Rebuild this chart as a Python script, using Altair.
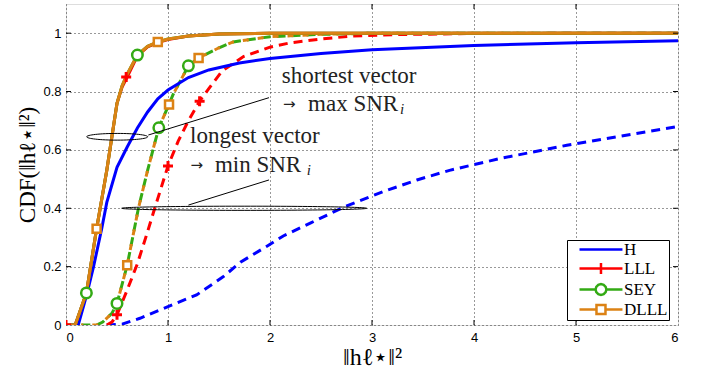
import altair as alt
import pandas as pd

# ---------------- data ----------------
series_names = ["H", "LLL", "SEY", "DLLL"]
series_colors = ["#0000FF", "#FF0000", "#33AA14", "#DC8214"]

# shortest vector (solid)
H_short_x = [0, 0.12, 0.2, 0.27, 0.35, 0.4, 0.5, 0.6, 0.7, 0.8, 0.9, 1.0, 1.2, 1.4, 1.7, 2.0, 2.5, 3.0, 4.0, 5.0, 6.0]
H_short_y = [0, 0, 0.1, 0.2, 0.33, 0.42, 0.54, 0.61, 0.675, 0.73, 0.775, 0.805, 0.848, 0.874, 0.898, 0.913, 0.93, 0.943, 0.958, 0.967, 0.974]

LLL_short_x = [0, 0.09, 0.2, 0.3, 0.4, 0.45, 0.5, 0.55, 0.6, 0.7, 0.8, 0.9, 1.0, 1.2, 1.5, 2.0, 3.0, 6.0]
LLL_short_y = [0, 0, 0.11, 0.33, 0.53, 0.645, 0.76, 0.815, 0.85, 0.922, 0.953, 0.968, 0.978, 0.99, 0.997, 1.0, 1.0, 1.0]

SEY_short_x = [0, 0.09, 0.2, 0.3, 0.4, 0.45, 0.5, 0.55, 0.6, 0.7, 0.8, 0.9, 1.0, 1.2, 1.5, 2.0, 3.0, 6.0]
SEY_short_y = [0, 0, 0.11, 0.33, 0.53, 0.645, 0.76, 0.82, 0.86, 0.925, 0.955, 0.97, 0.98, 0.99, 0.997, 1.0, 1.0, 1.0]

DLLL_short_x = [0, 0.09, 0.2, 0.3, 0.4, 0.45, 0.5, 0.55, 0.6, 0.7, 0.8, 0.9, 1.0, 1.2, 1.5, 2.0, 3.0, 6.0]
DLLL_short_y = [0, 0, 0.11, 0.33, 0.53, 0.645, 0.76, 0.82, 0.86, 0.925, 0.955, 0.97, 0.98, 0.99, 0.997, 1.0, 1.0, 1.0]

# longest vector (dashed)
H_long_x = [0.4, 0.55, 0.725, 1.0, 1.28, 1.54, 1.71, 1.97, 2.13, 2.4, 2.73, 3.11, 3.44, 3.76, 4.25, 4.91, 5.4, 6.0]
H_long_y = [0, 0.003, 0.023, 0.063, 0.103, 0.165, 0.215, 0.27, 0.305, 0.35, 0.405, 0.457, 0.497, 0.53, 0.57, 0.616, 0.645, 0.68]

LLL_long_x = [0.4, 0.45, 0.5, 0.6, 0.7, 0.8, 0.87, 1.0, 1.1, 1.2, 1.31, 1.4, 1.53, 1.74, 2.0, 2.2, 2.5, 2.8, 3.2, 4.0, 6.0]
LLL_long_y = [0, 0.01, 0.035, 0.12, 0.21, 0.32, 0.40, 0.545, 0.63, 0.70, 0.767, 0.81, 0.87, 0.92, 0.952, 0.967, 0.98, 0.99, 0.995, 0.999, 1.0]

SEY_long_x = [0.15, 0.3, 0.36, 0.45, 0.5, 0.6, 0.71, 0.8, 0.86, 0.91, 1.01, 1.05, 1.2, 1.3, 1.5, 1.64, 2.0, 2.5, 3.0, 6.0]
SEY_long_y = [0, 0, 0.01, 0.04, 0.074, 0.205, 0.40, 0.53, 0.61, 0.676, 0.756, 0.79, 0.888, 0.915, 0.95, 0.97, 0.988, 0.996, 1.0, 1.0]

DLLL_long_x = [0.15, 0.3, 0.36, 0.45, 0.5, 0.6, 0.71, 0.8, 0.86, 0.91, 1.01, 1.05, 1.2, 1.3, 1.5, 1.64, 2.0, 2.5, 3.0, 6.0]
DLLL_long_y = [0, 0, 0.01, 0.04, 0.074, 0.205, 0.40, 0.53, 0.61, 0.676, 0.756, 0.79, 0.888, 0.915, 0.95, 0.97, 0.988, 0.996, 1.0, 1.0]

# markers
LLL_mark_x = [0, 0.59, 0.5, 1.0, 1.31]
LLL_mark_y = [0, 0.85, 0.035, 0.545, 0.767]
SEY_mark_x = [0.2, 0.7, 0.5, 0.91, 1.2]
SEY_mark_y = [0.11, 0.925, 0.074, 0.676, 0.888]
DLLL_mark_x = [0.3, 0.9, 0.6, 1.01, 1.3]
DLLL_mark_y = [0.33, 0.97, 0.205, 0.756, 0.915]

# annotations
ann_text = ["shortest vector", "max SNR", "longest vector", "min SNR"]
ann_x = [2.115, 2.373, 1.216, 1.46]
ann_y = [0.829, 0.734, 0.622, 0.525]
arrow_x = [2.127, 1.22]
arrow_y = [0.734, 0.525]
sub_x = [3.275, 2.36]
sub_y = [0.722, 0.513]
ell_x = [0.502, 1.747]
ell_y = [0.645, 0.40]
lead_x = [1.99, 1.99]
lead_y = [0.779, 0.497]
lead_x2 = [0.807, 1.2]
lead_y2 = [0.651, 0.411]

x_ticks = [0, 1, 2, 3, 4, 5, 6]
y_ticks = [0, 0.2, 0.4, 0.6, 0.8, 1]

# ---------------- build ----------------
xs = alt.Scale(domain=[0, 6], nice=False, zero=False)
ys = alt.Scale(domain=[0, 1.1], nice=False, zero=False)

xaxis = alt.Axis(values=x_ticks, format="d", title="\u2016h\u2113\u22c6\u2016\u00b2",
                 grid=True, gridDash=[1, 3], gridColor="#333333", gridWidth=1,
                 domain=False, ticks=False, labelPadding=6,
                 labelFont="Liberation Sans", labelFontSize=13, labelColor="black",
                 titleFont="Liberation Serif", titleFontSize=24, titleFontWeight="normal",
                 titleColor="black", titlePadding=1)
yaxis = alt.Axis(values=y_ticks, format=".1~f", title="CDF(\u2016h\u2113\u22c6\u2016\u00b2)",
                 grid=True, gridDash=[1, 3], gridColor="#333333", gridWidth=1,
                 domain=False, ticks=False, labelPadding=5,
                 labelFont="Liberation Sans", labelFontSize=13, labelColor="black",
                 titleFont="Liberation Serif", titleFontSize=23, titleFontWeight="normal",
                 titleColor="black", titlePadding=3)


def line_df(xv, yv):
    return pd.DataFrame({"x": xv, "y": yv, "i": list(range(len(xv)))})


def line_layer(xv, yv, color, dash=None, offset=0):
    kw = dict(color=color, strokeWidth=3, clip=True, strokeCap="butt")
    if dash:
        kw["strokeDash"] = dash
        kw["strokeDashOffset"] = offset
    return alt.Chart(line_df(xv, yv)).mark_line(**kw).encode(
        x=alt.X("x:Q", scale=xs, axis=xaxis),
        y=alt.Y("y:Q", scale=ys, axis=yaxis),
        order="i:Q",
    )


dash = [9, 6]
layers = [
    line_layer(H_long_x, H_long_y, series_colors[0], dash),
    line_layer(LLL_long_x, LLL_long_y, series_colors[1], dash),
    line_layer(SEY_long_x, SEY_long_y, series_colors[2], dash),
    line_layer(DLLL_long_x, DLLL_long_y, series_colors[3], [6, 9], 4),
    line_layer(H_short_x, H_short_y, series_colors[0]),
    line_layer(LLL_short_x, LLL_short_y, series_colors[1]),
    line_layer(SEY_short_x, SEY_short_y, series_colors[2]),
    line_layer(DLLL_short_x, DLLL_short_y, series_colors[3]),
]

plus_path = "M-1,0L1,0M0,-1L0,1"


def marker_layer(xv, yv, color, shape, size, sw):
    return alt.Chart(pd.DataFrame({"x": xv, "y": yv})).mark_point(
        shape=shape, size=size, stroke=color, fill="white", filled=True,
        strokeWidth=sw, opacity=1, clip=True
    ).encode(x=alt.X("x:Q", scale=xs, axis=xaxis), y=alt.Y("y:Q", scale=ys, axis=yaxis))


layers += [
    marker_layer(LLL_mark_x, LLL_mark_y, series_colors[1], plus_path, 100, 3),
    marker_layer(SEY_mark_x, SEY_mark_y, series_colors[2], "circle", 110, 2.5),
    marker_layer(DLLL_mark_x, DLLL_mark_y, series_colors[3], "square", 64, 2.5),
]

# annotation leader lines and ellipses
lead_df = pd.DataFrame({"x": lead_x, "y": lead_y, "x2": lead_x2, "y2": lead_y2})
layers.append(alt.Chart(lead_df).mark_rule(color="black", strokeWidth=1).encode(
    x=alt.X("x:Q", scale=xs, axis=xaxis), y=alt.Y("y:Q", scale=ys, axis=yaxis),
    x2="x2:Q", y2="y2:Q"))

ell_shapes = ["M-1,0A1,0.11 0 1,0 1,0A1,0.11 0 1,0 -1,0",
              "M-1,0A1,0.017 0 1,0 1,0A1,0.017 0 1,0 -1,0"]
ell_sizes = [3721, 60025]
for k in range(2):
    layers.append(alt.Chart(pd.DataFrame({"x": [ell_x[k]], "y": [ell_y[k]]})).mark_point(
        shape=ell_shapes[k], size=ell_sizes[k], stroke="black", strokeWidth=1,
        filled=False, opacity=1).encode(
        x=alt.X("x:Q", scale=xs, axis=xaxis), y=alt.Y("y:Q", scale=ys, axis=yaxis)))

ann_df = pd.DataFrame({"x": ann_x, "y": ann_y, "t": ann_text})
layers.append(alt.Chart(ann_df).mark_text(
    align="left", baseline="alphabetic", font="Liberation Serif", fontSize=23, color="#222222"
).encode(x=alt.X("x:Q", scale=xs, axis=xaxis), y=alt.Y("y:Q", scale=ys, axis=yaxis), text="t:N"))

arr_df = pd.DataFrame({"x": arrow_x, "y": arrow_y, "t": ["\u2192", "\u2192"]})
layers.append(alt.Chart(arr_df).mark_text(
    align="left", baseline="alphabetic", font="DejaVu Sans", fontSize=15, color="#222222", dy=-2
).encode(x=alt.X("x:Q", scale=xs, axis=xaxis), y=alt.Y("y:Q", scale=ys, axis=yaxis), text="t:N"))

sub_df = pd.DataFrame({"x": sub_x, "y": sub_y, "t": ["i", "i"]})
layers.append(alt.Chart(sub_df).mark_text(
    align="left", baseline="alphabetic", font="Liberation Serif", fontSize=15,
    fontStyle="italic", color="#222222"
).encode(x=alt.X("x:Q", scale=xs, axis=xaxis), y=alt.Y("y:Q", scale=ys, axis=yaxis), text="t:N"))

# inward tick marks on the four sides
xt_df = pd.DataFrame({"x": x_ticks[1:-1]})
yt_df = pd.DataFrame({"y": y_ticks[1:]})
layers.append(alt.Chart(xt_df).mark_rule(color="black", strokeWidth=1).encode(
    x=alt.X("x:Q", scale=xs, axis=xaxis), y=alt.value(321), y2=alt.value(316)))
layers.append(alt.Chart(xt_df).mark_rule(color="black", strokeWidth=1).encode(
    x=alt.X("x:Q", scale=xs, axis=xaxis), y=alt.value(0), y2=alt.value(5)))
layers.append(alt.Chart(yt_df).mark_rule(color="black", strokeWidth=1).encode(
    y=alt.Y("y:Q", scale=ys, axis=yaxis), x=alt.value(0), x2=alt.value(5)))
layers.append(alt.Chart(yt_df).mark_rule(color="black", strokeWidth=1).encode(
    y=alt.Y("y:Q", scale=ys, axis=yaxis), x=alt.value(607), x2=alt.value(612)))

# legend (symbols: line with marker; circle drawn as a 12-gon to keep bounds tight)
legend_paths = [
    "M0.5,0L7.66,0",
    "M0.5,0L7.66,0M4.08,-0.9L4.08,0.9",
    ("M0.5,0L3.18,0M4.98,0L7.66,0"
     "M4.98,0L4.859,0.45L4.53,0.779L4.08,0.9L3.63,0.779L3.301,0.45L3.18,0"
     "L3.301,-0.45L3.63,-0.779L4.08,-0.9L4.53,-0.779L4.859,-0.45Z"),
    "M0.5,0L3.33,0M4.83,0L7.66,0M3.33,-0.75L4.83,-0.75L4.83,0.75L3.33,0.75Z",
]
leg = alt.Legend(orient="none", legendX=501, legendY=236, title=None,
                 labelFont="Liberation Serif", labelFontSize=17, labelColor="black",
                 symbolSize=144, symbolStrokeWidth=2.5, symbolFillColor="white",
                 labelOffset=39, rowPadding=0, padding=1,
                 strokeColor="black", fillColor="white")
leg_df = pd.DataFrame({"series": series_names, "x": [1, 1, 1, 1], "y": [0.5, 0.5, 0.5, 0.5]})
layers.append(alt.Chart(leg_df).transform_filter("false").mark_point(
    filled=True, fill="white", strokeWidth=2.5, opacity=1).encode(
    x=alt.X("x:Q", scale=xs, axis=xaxis), y=alt.Y("y:Q", scale=ys, axis=yaxis),
    stroke=alt.Stroke("series:N", scale=alt.Scale(domain=series_names, range=series_colors), legend=leg),
    shape=alt.Shape("series:N", scale=alt.Scale(domain=series_names, range=legend_paths), legend=leg),
))

chart = alt.layer(*layers).properties(
    width=612, height=321,
    autosize=alt.AutoSizeParams(type="none"),
    padding={"left": 66, "top": 4, "right": 24, "bottom": 56},
).configure_view(stroke="black", strokeWidth=1.2).configure(background="white")

chart.save("out.html", embed_options={"renderer": "svg", "actions": False})
